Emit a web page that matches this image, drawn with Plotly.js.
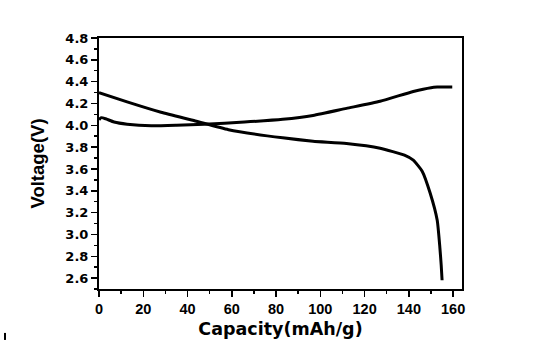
<!DOCTYPE html>
<html><head><meta charset="utf-8">
<script src="https://cdn.plot.ly/plotly-3.0.1.min.js"></script>
<style>html,body{margin:0;padding:0;background:#fff}#chart{width:553px;height:357px}</style>
</head><body><div id="chart"></div>
<script>
const chargeCapacity = [0, 1, 3, 6.8, 12.7, 23.6, 35, 47.6, 65.7, 83, 96.7, 111.8, 127, 142, 150, 152.8, 156, 159.6];
const chargeVoltage  = [4.05, 4.07, 4.06, 4.03, 4.01, 3.995, 4.0, 4.01, 4.03, 4.055, 4.09, 4.155, 4.22, 4.31, 4.345, 4.35, 4.35, 4.35];
const dischargeCapacity = [0, 12.7, 28, 43.5, 58.5, 83, 96.7, 111.8, 127, 138, 142, 146, 149.6, 152.8, 154, 154.6, 155];
const dischargeVoltage  = [4.30, 4.215, 4.12, 4.04, 3.96, 3.885, 3.854, 3.833, 3.79, 3.726, 3.68, 3.58, 3.38, 3.13, 2.88, 2.72, 2.58];
const xTicks = [0, 20, 40, 60, 80, 100, 120, 140, 160];
const yTicks = [2.6, 2.8, 3.0, 3.2, 3.4, 3.6, 3.8, 4.0, 4.2, 4.4, 4.6, 4.8];

const lineStyle = {color: '#000', width: 3, shape: 'spline', smoothing: 0.5};
const traces = [
  {x: chargeCapacity, y: chargeVoltage, mode: 'lines', line: lineStyle, hoverinfo: 'skip'},
  {x: dischargeCapacity, y: dischargeVoltage, mode: 'lines', line: lineStyle, hoverinfo: 'skip'}
];
const xTickFont = {family: 'Liberation Sans, Arial, sans-serif', size: 14.5, color: '#000', weight: 'bold'};
const yTickFont = {family: 'DejaVu Sans, sans-serif', size: 13, color: '#000', weight: 'bold'};
const xTitleFont = {family: 'DejaVu Sans, sans-serif', size: 17.5, color: '#000', weight: 'bold'};
const yTitleFont = {family: 'Liberation Sans, Arial, sans-serif', size: 18.5, color: '#000', weight: 'bold'};
const layout = {
  width: 553, height: 357,
  margin: {l: 99, r: 91, t: 38, b: 68},
  paper_bgcolor: '#fff', plot_bgcolor: '#fff',
  showlegend: false,
  xaxis: {
    range: [0, 164], tickvals: xTicks, ticktext: xTicks.map(String),
    ticks: 'outside', ticklen: 6, tickwidth: 1.5, tickcolor: '#000',
    minor: {dtick: 10, tick0: 0, ticks: 'outside', ticklen: 3, tickcolor: '#000', tickwidth: 1.5},
    showline: true, linecolor: '#000', linewidth: 2, mirror: true,
    showgrid: false, zeroline: false, tickfont: xTickFont,
    title: {text: 'Capacity(mAh/g)', font: xTitleFont, standoff: 6}
  },
  yaxis: {
    range: [2.5, 4.8], tickvals: yTicks, ticktext: yTicks.map(v => v.toFixed(1)),
    ticks: 'outside', ticklen: 6, tickwidth: 1.5, tickcolor: '#000',
    minor: {dtick: 0.1, tick0: 2.5, ticks: 'outside', ticklen: 3, tickcolor: '#000', tickwidth: 1.5},
    showline: true, linecolor: '#000', linewidth: 2, mirror: true,
    showgrid: false, zeroline: false, tickfont: yTickFont,
    title: {text: 'Voltage(V)', font: yTitleFont, standoff: 16}
  },
  shapes: [
    {type: 'line', xref: 'paper', yref: 'paper', x0: -0.259, x1: -0.259, y0: -0.175, y1: -0.203, line: {color: '#000', width: 2}}
  ]
};
Plotly.newPlot('chart', traces, layout, {staticPlot: true, displayModeBar: false});
</script>
</body></html>
